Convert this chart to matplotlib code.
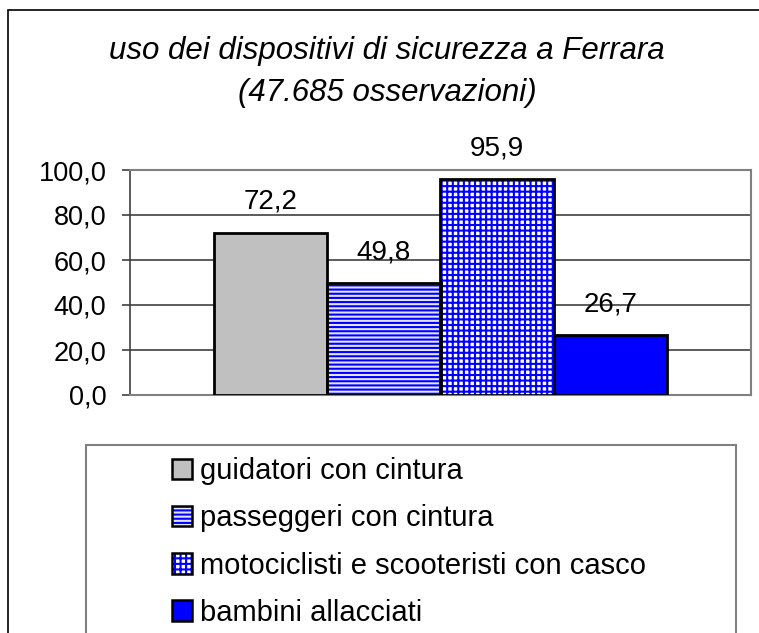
import matplotlib
matplotlib.use("Agg")
import matplotlib.pyplot as plt
from matplotlib.patches import Rectangle, Patch
from matplotlib.ticker import FuncFormatter

# data
categories = [
    "guidatori con cintura",
    "passeggeri con cintura",
    "motociclisti e scooteristi con casco",
    "bambini allacciati",
]
values = [72.2, 49.8, 95.9, 26.7]
value_labels = ["72,2", "49,8", "95,9", "26,7"]
y_ticks = [0, 20, 40, 60, 80, 100]

title_line1 = "uso dei dispositivi di sicurezza a Ferrara"
title_line2 = "(47.685 osservazioni)"

plt.rcParams["font.family"] = ["Liberation Sans", "DejaVu Sans"]
plt.rcParams["hatch.linewidth"] = 1.5

face = ["#C0C0C0", "#E4E4FF", "white", "#0000FF"]
hatches = [None, "----", "+++", None]
hatch_col = ["black", "#0000FF", "#0000FF", "black"]

W, H = 759, 633
fig = plt.figure(figsize=(W / 100, H / 100), dpi=100)

# outer chart border
fig.patches.append(Rectangle((8 / W, -0.1), (762 - 8) / W, 1.1 - 10 / H,
                             transform=fig.transFigure, fill=False,
                             edgecolor="black", linewidth=1.2))

ax = fig.add_axes([130 / W, 1 - 395 / H, 621 / W, 225 / H])

x = list(range(len(values)))
for i in x:
    ax.bar(i, values[i], width=1.0, color=face[i], edgecolor=hatch_col[i],
           hatch=hatches[i], linewidth=0, zorder=3)
    ax.bar(i, values[i], width=1.0, fill=False, edgecolor="black",
           linewidth=2.0, zorder=4)
    ax.annotate(value_labels[i], (i, values[i]), xytext=(0, 22),
                textcoords="offset points", ha="center", va="center",
                fontsize=20)

ax.set_xlim(-1.243, 4.243)
ax.set_ylim(0, 100)
ax.set_yticks(y_ticks)
ax.yaxis.set_major_formatter(FuncFormatter(lambda v, p: f"{v:.1f}".replace(".", ",")))
ax.set_xticks([])
ax.tick_params(axis="y", direction="out", length=6, width=1.2, color="#404040",
               labelsize=19.5, pad=11)
ax.grid(axis="y", color="#404040", linewidth=1.2, zorder=1)
for s in ["top", "right", "bottom"]:
    ax.spines[s].set_color("#808080")
    ax.spines[s].set_linewidth(1.5)
ax.spines["left"].set_color("#404040")
ax.spines["left"].set_linewidth(1.2)

# titles
fig.text(387 / W, 1 - 51 / H, title_line1, ha="center", va="center",
         fontsize=22.5, style="italic")
fig.text(387 / W, 1 - 93 / H, title_line2, ha="center", va="center",
         fontsize=22.5, style="italic")

# legend box
fig.patches.append(Rectangle((86 / W, -0.1), (736 - 86) / W, 0.1 + 1 - 445 / H,
                             transform=fig.transFigure, fill=False,
                             edgecolor="#808080", linewidth=1.5))

handles = []
for i in x:
    fill = Patch(facecolor=face[i], edgecolor=hatch_col[i], hatch=hatches[i],
                 linewidth=0)
    edge = Patch(facecolor="none", edgecolor="black", linewidth=1.8)
    handles.append((fill, edge))
leg = fig.legend(handles, categories, loc="upper left",
                 bbox_to_anchor=(172 / W, 1 - 457 / H), frameon=False,
                 fontsize=21, handlelength=0.7, handleheight=0.7,
                 handletextpad=0.25, labelspacing=0.66, borderpad=0,
                 borderaxespad=0)

fig.savefig("out.png", dpi=100)
